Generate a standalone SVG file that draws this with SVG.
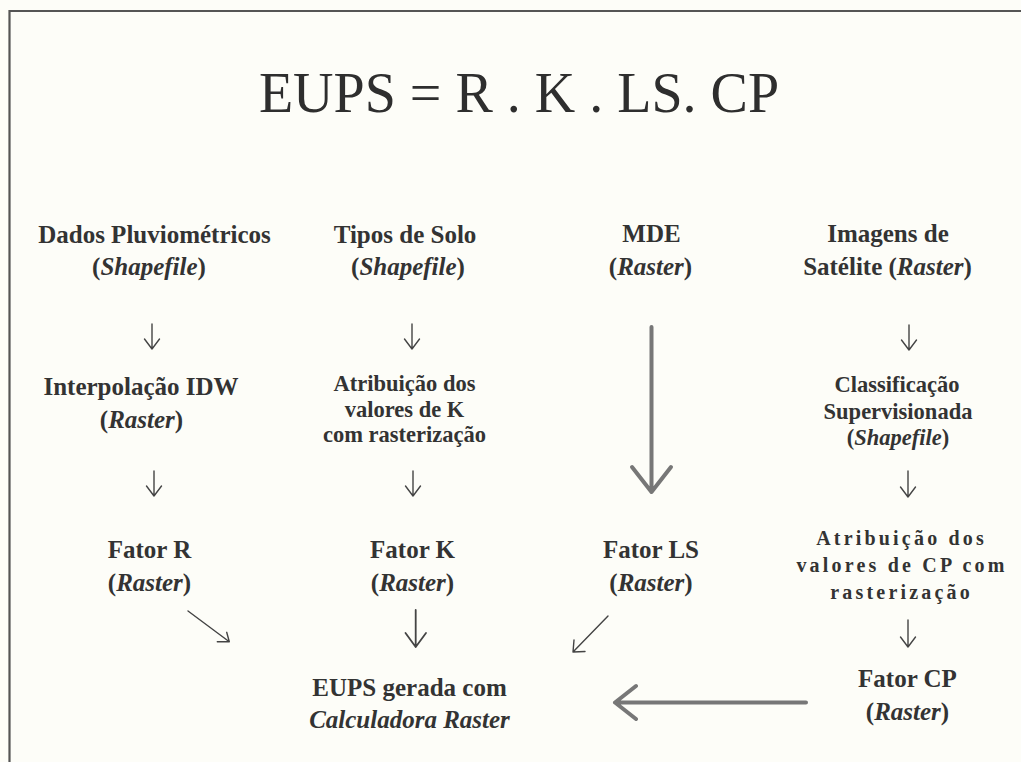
<svg xmlns="http://www.w3.org/2000/svg" width="1021" height="762" viewBox="0 0 1021 762">
<style>
text{font-family:'Liberation Serif','DejaVu Serif',serif;fill:#333;text-anchor:middle}
.t{font-size:56px;fill:#2e2e2e}
.b{font-size:25px;font-weight:bold}
.s{font-size:22.5px;font-weight:bold}
.w{font-size:20px;font-weight:bold;letter-spacing:3.2px}
.i{font-style:italic}
.thin{fill:none;stroke:#444;stroke-width:1.4;stroke-linecap:round;stroke-linejoin:round}
.mid{fill:none;stroke:#444;stroke-width:1.8;stroke-linecap:round;stroke-linejoin:round}
.big{fill:none;stroke:#777;stroke-width:4;stroke-linecap:round;stroke-linejoin:round}
</style>
<rect width="1021" height="762" fill="#fdfdf8"/>
<path d="M9.5,766 V11 H1030" fill="none" stroke="#555" stroke-width="2.2"/>
<g font-family="Liberation Serif, DejaVu Serif, serif">
<g id="title"><text class="t" x="519" y="112">EUPS = R . K . LS. CP</text></g>
<g id="dados"><text class="b" x="154.5" y="243">Dados Pluviométricos</text><text class="b" x="149" y="275">(<tspan class="i">Shapefile</tspan>)</text></g>
<g id="interpolacao"><text class="b" x="141" y="395">Interpolação IDW</text><text class="b" x="141.5" y="428">(<tspan class="i">Raster</tspan>)</text></g>
<g id="fatorR"><text class="b" x="149.5" y="558">Fator R</text><text class="b" x="149.5" y="591">(<tspan class="i">Raster</tspan>)</text></g>
<g id="tipos"><text class="b" x="405" y="243">Tipos de Solo</text><text class="b" x="408" y="275">(<tspan class="i">Shapefile</tspan>)</text></g>
<g id="atribK"><text class="s" x="404.5" y="391">Atribuição dos</text><text class="s" x="404.5" y="417">valores de K</text><text class="s" x="404.5" y="442">com rasterização</text></g>
<g id="fatorK"><text class="b" x="412.5" y="558">Fator K</text><text class="b" x="412.5" y="591">(<tspan class="i">Raster</tspan>)</text></g>
<g id="mde"><text class="b" x="651.5" y="242">MDE</text><text class="b" x="650.5" y="275">(<tspan class="i">Raster</tspan>)</text></g>
<g id="fatorLS"><text class="b" x="651" y="558">Fator LS</text><text class="b" x="651" y="591">(<tspan class="i">Raster</tspan>)</text></g>
<g id="imagens"><text class="b" x="888" y="242">Imagens de</text><text class="b" x="887.5" y="275">Satélite (<tspan class="i">Raster</tspan>)</text></g>
<g id="classif"><text class="s" x="897" y="392">Classificação</text><text class="s" x="898" y="419">Supervisionada</text><text class="s" x="898" y="445">(<tspan class="i">Shapefile</tspan>)</text></g>
<g id="atribCP"><text class="w" x="901.6" y="545">Atribuição dos</text><text class="w" x="902" y="572">valores de CP com</text><text class="w" x="901.6" y="599">rasterização</text></g>
<g id="fatorCP"><text class="b" x="907.5" y="687">Fator CP</text><text class="b" x="907.5" y="720">(<tspan class="i">Raster</tspan>)</text></g>
<g id="eups"><text class="b" x="409.5" y="696">EUPS gerada com</text><text class="b i" x="409.5" y="728">Calculadora Raster</text></g>
</g>
<g id="connectors">
<path class="thin" d="M152,324 V349 M144.5,339 L152,349 L159.5,339"/>
<path class="thin" d="M154,471 V496 M146.5,486 L154,496 L161.5,486"/>
<path class="thin" d="M412,324 V349 M404.5,339 L412,349 L419.5,339"/>
<path class="thin" d="M413,471 V496 M405.5,486 L413,496 L420.5,486"/>
<path class="thin" d="M909,325 V350 M901.5,340 L909,350 L916.5,340"/>
<path class="thin" d="M908,471 V497 M900.5,487 L908,497 L915.5,487"/>
<path class="thin" d="M908,620 V647 M900.5,637 L908,647 L915.5,637"/>
<path class="mid" d="M415.7,610 V647 M405.5,633 L415.7,647 L426,633"/>
<path class="thin" d="M188,611 L229.3,641.7 M217.3,641.7 L229.3,641.7 L226.7,632.3"/>
<path class="thin" d="M608,616 L573,652 M574,640 L573,652 L585,651.5"/>
<path class="big" d="M651.5,327 V492 M632,467 L651.5,492 L671,467"/>
<path class="big" d="M806,702.5 H615 M636,686 L615,702.5 L636,719"/>
</g>
</svg>
